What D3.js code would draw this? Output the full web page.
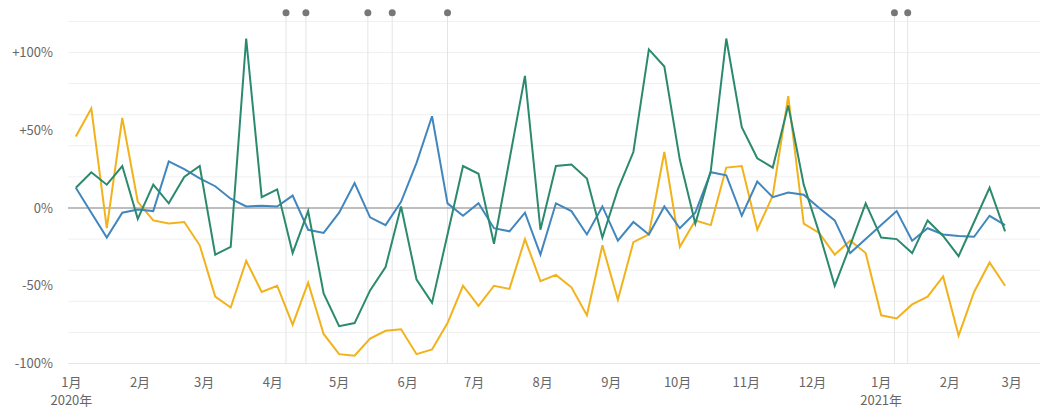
<!DOCTYPE html>
<html>
<head>
<meta charset="utf-8">
<script src="https://cdn.jsdelivr.net/npm/d3@7"></script>
<style>
  body { margin: 0; background: #fff; }
  text { font-family: "Noto Sans CJK JP", "Noto Sans", sans-serif; }
</style>
</head>
<body>
<div id="chart"></div>
<script>
// weekly series, first week 2020-01-03
const startDate = "2020-01-03";
const yellowValues = [46, 64, -13, 58, 4, -8, -10, -9, -24, -57, -64, -34, -54, -50, -75, -48,
  -81, -94, -95, -84, -79, -78, -94, -91, -74, -50, -63, -50, -52, -20, -47, -43, -51, -69,
  -24, -59, -22, -17, 36, -25, -8, -11, 26, 27, -14, 8, 72, -10, -16, -30, -21, -29, -69,
  -71, -62, -57, -44, -82, -54, -35, -50];
const blueValues = [13, -3, -19, -3, -1, -2, 30, 25, 19, 14, 6, 1, 1.5, 1, 8, -14,
  -16, -3, 16, -6, -11, 4, 29, 59, 3, -5, 3, -13, -15, -3, -30, 3, -2, -17,
  1, -21, -9, -17, 1, -13, -3, 23, 21, -5, 17, 7, 10, 8.5, 0, -8, -29, -20, -11,
  -2, -21, -13, -17, -18, -18.5, -5, -11];
const greenValues = [13, 23, 15, 27, -7, 15, 3, 20, 27, -30, -25, 109, 7, 12, -29, -2,
  -55, -76, -74, -53, -38, 1, -46, -61, -17, 27, 22, -23, 31, 85, -14, 27, 28, 19,
  -19, 12, 36, 102, 91, 31, -10, 24, 109, 52, 32, 26, 66, 15, -16, -50, -24, 3, -19,
  -20, -29, -8, -18, -31, -9, 13, -15];
const eventDates = ["2020-04-07", "2020-04-16", "2020-05-14", "2020-05-25", "2020-06-19",
  "2021-01-07", "2021-01-13"];
const gridValues = [-100, -80, -60, -40, -20, 0, 20, 40, 60, 80, 100, 120];
const yTickValues = [-100, -50, 0, 50, 100];

const width = 1040, height = 410;
const plotLeft = 68, plotRight = 1040;
const parse = d3.timeParse("%Y-%m-%d");

const start = parse(startDate);
const dates = d3.range(yellowValues.length).map((i) => d3.timeDay.offset(start, i * 7));

const x = d3.scaleTime()
  .domain([new Date(2020, 0, 1), new Date(2021, 2, 1)])
  .range([71.4, 1011.7]);
const y = d3.scaleLinear().domain([-100, 100]).range([363.5, 52.5]);

const svg = d3.select("#chart").append("svg")
  .attr("width", width)
  .attr("height", height);

// grid lines
svg.append("g")
  .selectAll("line")
  .data(gridValues.filter((d) => d !== 0))
  .enter()
  .append("line")
  .attr("x1", plotLeft)
  .attr("x2", plotRight)
  .attr("y1", (d) => y(d))
  .attr("y2", (d) => y(d))
  .attr("stroke", (d) => (d === -100 ? "#e6e6e6" : "#f0f0f0"))
  .attr("stroke-width", 1);

// event markers
const events = eventDates.map(parse);
svg.append("g")
  .selectAll("line")
  .data(events)
  .enter()
  .append("line")
  .attr("x1", (d) => x(d))
  .attr("x2", (d) => x(d))
  .attr("y1", 13)
  .attr("y2", y(-100))
  .attr("stroke", "#e4e4e4")
  .attr("stroke-width", 1);
svg.append("g")
  .selectAll("circle")
  .data(events)
  .enter()
  .append("circle")
  .attr("cx", (d) => x(d))
  .attr("cy", 12.7)
  .attr("r", 3.5)
  .attr("fill", "#777");

// zero line
svg.append("line")
  .attr("x1", plotLeft)
  .attr("x2", plotRight)
  .attr("y1", y(0))
  .attr("y2", y(0))
  .attr("stroke", "#a8a8a8")
  .attr("stroke-width", 1.5);

// y labels
svg.append("g")
  .selectAll("text")
  .data(yTickValues)
  .enter()
  .append("text")
  .attr("x", 53)
  .attr("y", (d) => y(d))
  .attr("dy", "0.35em")
  .attr("text-anchor", "end")
  .attr("fill", "#666")
  .style("font-size", "13px")
  .text((d) => (d > 0 ? "+" : "") + d + "%");

// x labels
const months = d3.timeMonth.range(new Date(2020, 0, 1), new Date(2021, 2, 2));
const xg = svg.append("g");
xg.selectAll("text.month")
  .data(months)
  .enter()
  .append("text")
  .attr("class", "month")
  .attr("x", (d) => x(d))
  .attr("y", 382)
  .attr("dy", "0.35em")
  .attr("text-anchor", "middle")
  .attr("fill", "#666")
  .style("font-size", "13px")
  .text((d) => d.getMonth() + 1 + "月");
xg.selectAll("text.year")
  .data(months.filter((d) => d.getMonth() === 0))
  .enter()
  .append("text")
  .attr("class", "year")
  .attr("x", (d) => x(d))
  .attr("y", 400.5)
  .attr("dy", "0.35em")
  .attr("text-anchor", "middle")
  .attr("fill", "#666")
  .style("font-size", "13px")
  .text((d) => d.getFullYear() + "年");

// lines
const line = d3.line()
  .x((d, i) => x(dates[i]))
  .y((d) => y(d));

const series = [
  { values: yellowValues, color: "#f2b21c" },
  { values: blueValues, color: "#4286be" },
  { values: greenValues, color: "#2b8a6e" },
];

svg.append("g")
  .selectAll("path")
  .data(series)
  .enter()
  .append("path")
  .attr("d", (d) => line(d.values))
  .attr("fill", "none")
  .attr("stroke", (d) => d.color)
  .attr("stroke-width", 2)
  .attr("stroke-linejoin", "miter");
</script>
</body>
</html>
